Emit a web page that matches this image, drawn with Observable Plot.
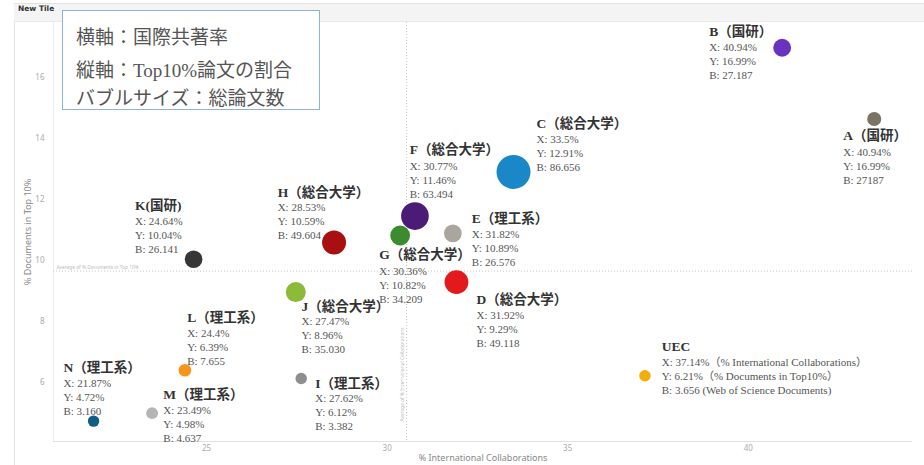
<!DOCTYPE html>
<html>
<head>
<meta charset="utf-8">
<script src="https://cdn.jsdelivr.net/npm/d3@7"></script>
<script src="https://cdn.jsdelivr.net/npm/@observablehq/plot@0.6"></script>
<style>
  html, body { margin: 0; padding: 0; background: #fff; }
  #page { position: relative; width: 924px; height: 465px; overflow: hidden; background: #fff; }
  #leftline { position: absolute; left: 14px; top: 3px; width: 1px; height: 462px; background: #e6e6e6; }
  #header { position: absolute; left: 14px; top: 3px; right: 0; height: 17px; background: #f4f4f4;
            border-top: 1px solid #e2e2e2; border-bottom: 1px solid #e9e9e9; z-index: 2; }
  #header span { position: absolute; left: 4px; top: 0; line-height: 17px; font: bold 7.5px "DejaVu Sans", sans-serif; color: #333; }
  #chart { position: absolute; left: 0; top: 0; z-index: 1; }
  #legendbox { position: absolute; left: 62px; top: 10px; width: 258px; height: 100px; background: #fff;
               border: 1.5px solid #8fb1d9; z-index: 3; box-sizing: border-box;
               font-family: "Liberation Serif", "Noto Sans CJK JP", serif; font-size: 19px; color: #555; }
  #legendbox div { position: absolute; left: 13px; white-space: nowrap; }
</style>
</head>
<body>
<div id="page">
  <div id="chart"></div>
  <div id="leftline"></div>
  <div id="header"><span>New Tile</span></div>
  <div id="legendbox">
    <div style="top:11px">横軸：国際共著率</div>
    <div style="top:44px">縦軸：Top10%論文の割合</div>
    <div style="top:72px">バブルサイズ：総論文数</div>
  </div>
</div>
<script>
// ---- data ----
const names = ["A","B","C","D","E","F","G","H","I","J","K","L","M","N","UEC"];
const titles = ["A（国研）","B（国研）","C（総合大学）","D（総合大学）","E（理工系）","F（総合大学）","G（総合大学）","H（総合大学）","I（理工系）","J（総合大学）","K(国研)","L（理工系）","M（理工系）","N（理工系）","UEC"];
const intlCollab = [43.49, 40.94, 33.5, 31.92, 31.82, 30.77, 30.36, 28.53, 27.62, 27.47, 24.64, 24.4, 23.49, 21.87, 37.14];
const top10 = [14.65, 16.99, 12.91, 9.29, 10.89, 11.46, 10.82, 10.59, 6.12, 8.96, 10.04, 6.39, 4.98, 4.72, 6.21];
const docs = [13, 27.187, 86.656, 49.118, 26.576, 63.494, 34.209, 49.604, 3.382, 35.030, 26.141, 7.655, 4.637, 3.160, 3.656];
const labelX = ["X: 40.94%","X: 40.94%","X: 33.5%","X: 31.92%","X: 31.82%","X: 30.77%","X: 30.36%","X: 28.53%","X: 27.62%","X: 27.47%","X: 24.64%","X: 24.4%","X: 23.49%","X: 21.87%","X: 37.14%（% International Collaborations）"];
const labelY = ["Y: 16.99%","Y: 16.99%","Y: 12.91%","Y: 9.29%","Y: 10.89%","Y: 11.46%","Y: 10.82%","Y: 10.59%","Y: 6.12%","Y: 8.96%","Y: 10.04%","Y: 6.39%","Y: 4.98%","Y: 4.72%","Y: 6.21%（% Documents in Top10%）"];
const labelB = ["B: 27187","B: 27.187","B: 86.656","B: 49.118","B: 26.576","B: 63.494","B: 34.209","B: 49.604","B: 3.382","B: 35.030","B: 26.141","B: 7.655","B: 4.637","B: 3.160","B: 3.656 (Web of Science Documents)"];
const avgIntl = 30.54;
const avgTop10 = 9.65;
const xTicks = [25, 30, 35, 40];
const yTicks = [6, 8, 10, 12, 14, 16];

// ---- styles / layout ----
const colorOf = {A:"#7b7364", B:"#6a32c0", C:"#1a87c8", D:"#e3191c", E:"#aaa69d", F:"#4a1c78", G:"#3d8b2f",
  H:"#a80f10", I:"#8e8e8e", J:"#8cbb3c", K:"#363636", L:"#f7941d", M:"#b5b5b5", N:"#0f5e87", UEC:"#f6ad0c"};
// [dx, title dy, middle detail line dy] in pixels relative to bubble centre
const layout = {A:[-31,17,46.7], B:[-73,-16.5,12.5], C:[23,-48,-19], D:[20,17.3,46.6], E:[19,-15,14],
  F:[-5.3,-66,-36.7], G:[-21,19.3,48.6], H:[-56.4,-50,-21.6], I:[14,5,33.3], J:[5.7,15,42],
  K:[-58.5,-53.3,-25], L:[2.2,-52.7,-24], M:[11.3,-18.3,10.3], N:[-30.2,-53.4,-25], UEC:[16.8,-29,0]};

const data = names.map((n, i) => ({name: n, title: titles[i], x: intlCollab[i], y: top10[i], size: docs[i],
  detail: `${labelX[i]}\n${labelY[i]}\n${labelB[i]}`}));

const serif = `"Liberation Serif", "DejaVu Serif", "Noto Sans CJK JP", serif`;
const xDomain = [20.76, 44.55];
const yDomain = [4.05, 17.82];

const labelMarks = data.flatMap(d => {
  const [dx, tdy, mdy] = layout[d.name];
  return [
    Plot.text([d], {x: "x", y: "y", text: "title", dx, dy: tdy, textAnchor: "start", lineAnchor: "middle",
      fontSize: 13.5, fontWeight: 600, fill: "#333", fontFamily: serif}),
    Plot.text([d], {x: "x", y: "y", text: "detail", dx, dy: mdy, textAnchor: "start", lineAnchor: "middle",
      lineHeight: 1.28, fontSize: 11, fill: "#555", fontFamily: serif})
  ];
});

const chart = Plot.plot({
  width: 924,
  height: 465,
  marginLeft: 53,
  marginRight: 12,
  marginTop: 22,
  marginBottom: 24,
  style: {background: "transparent", overflow: "visible", fontFamily: `"Noto Sans", sans-serif`},
  x: {domain: xDomain, ticks: xTicks},
  y: {domain: yDomain, ticks: yTicks},
  r: {type: "linear", domain: [3.16, 86.656], range: [5.7, 17]},
  marks: [
    Plot.ruleY([yDomain[0]], {stroke: "#e2e2e2", strokeWidth: 1}),
    Plot.ruleX([xDomain[0]], {stroke: "#ececec", strokeWidth: 1}),
    Plot.axisX({ticks: xTicks, tickSize: 0, tickPadding: 4, fontSize: 8, fill: "#aaa", label: null}),
    Plot.axisY({ticks: yTicks, tickSize: 0, tickPadding: 9, fontSize: 8, fill: "#aaa", label: null}),
    Plot.ruleX([avgIntl], {stroke: "#c4c4c4", strokeDasharray: "1,2", strokeWidth: 1}),
    Plot.ruleY([avgTop10], {stroke: "#c4c4c4", strokeDasharray: "1,2", strokeWidth: 1}),
    Plot.text(["Average of % Documents in Top 10%"], {x: xDomain[0], y: avgTop10, dx: 3, dy: -4,
      textAnchor: "start", fontSize: 4.8, fill: "#bbb"}),
    Plot.text(["Average of % International Collaborations"], {x: avgIntl, y: yDomain[0], dx: -4, dy: -20,
      rotate: -90, textAnchor: "start", fontSize: 4.8, fill: "#bbb"}),
    Plot.text(["% Documents in Top 10%"], {frameAnchor: "left", dx: -25, rotate: -90, textAnchor: "middle",
      fontSize: 9, fill: "#888"}),
    Plot.text(["% International Collaborations"], {frameAnchor: "bottom", dy: 19, textAnchor: "middle",
      fontSize: 9, fill: "#888"}),
    Plot.dot(data, {x: "x", y: "y", r: "size", fill: d => colorOf[d.name], fillOpacity: 1, stroke: "none"}),
    ...labelMarks
  ]
});
document.getElementById("chart").appendChild(chart);
</script>
</body>
</html>
